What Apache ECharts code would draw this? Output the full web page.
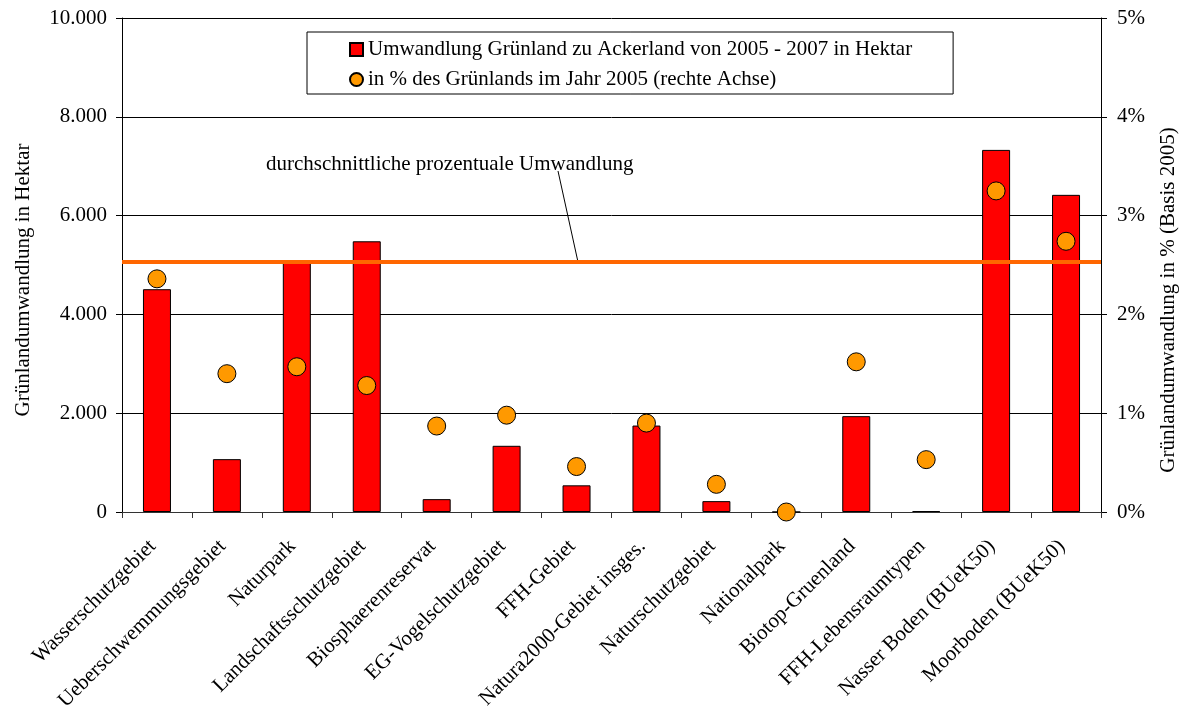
<!DOCTYPE html>
<html>
<head>
<meta charset="utf-8">
<script src="https://cdn.jsdelivr.net/npm/echarts@6/dist/echarts.min.js"></script>
<style>
  html, body { margin: 0; padding: 0; background: #fff; }
  #chart { width: 1184px; height: 708px; }
</style>
</head>
<body>
<div id="chart"></div>
<script>
const categories = [
  'Wasserschutzgebiet', 'Ueberschwemmungsgebiet', 'Naturpark', 'Landschaftsschutzgebiet',
  'Biosphaerenreservat', 'EG-Vogelschutzgebiet', 'FFH-Gebiet', 'Natura2000-Gebiet insges.',
  'Naturschutzgebiet', 'Nationalpark', 'Biotop-Gruenland', 'FFH-Lebensraumtypen',
  'Nasser Boden (BUeK50)', 'Moorboden (BUeK50)'
]
const hectares = [4510, 1070, 5090, 5480, 260, 1340, 540, 1750, 220, 0, 1940, 20, 7330, 6420]
const percentages = [2.36, 1.40, 1.47, 1.28, 0.87, 0.98, 0.46, 0.90, 0.28, 0, 1.52, 0.53, 3.25, 2.74]
const averagePct = 2.53

const barName = 'Umwandlung Grünland zu Ackerland von 2005 - 2007 in Hektar'
const dotName = 'in % des Grünlands im Jahr 2005 (rechte Achse)'
const noteText = 'durchschnittliche prozentuale Umwandlung'

const FONT = "'Liberation Serif', 'Times New Roman', serif"

function thousands(v) {
  return String(v).replace(/\B(?=(\d{3})+(?!\d))/g, '.')
}

const chart = echarts.init(document.getElementById('chart'))

chart.setOption({
  animation: false,
  textStyle: { fontFamily: FONT, color: '#000' },
  grid: { left: 122, right: 83, top: 18, bottom: 196, outerBoundsMode: 'none' },
  legend: {
    orient: 'vertical',
    left: 307,
    top: 32,
    padding: [7, 41, 4, 42],
    itemGap: 9,
    itemWidth: 13,
    itemHeight: 13,
    borderColor: '#000',
    borderWidth: 1,
    textStyle: { fontFamily: FONT, fontSize: 21, color: '#000' },
    data: [
      { name: barName, icon: 'rect' },
      { name: dotName, icon: 'circle' }
    ]
  },
  xAxis: {
    type: 'category',
    data: categories,
    axisLine: { lineStyle: { color: '#333', width: 1 } },
    axisTick: { show: true, length: 6, lineStyle: { color: '#333' } },
    axisLabel: {
      interval: 0,
      rotate: 45,
      margin: 27,
      padding: [0, 6, 0, 0],
      fontFamily: FONT,
      fontSize: 21,
      color: '#000'
    }
  },
  yAxis: [
    {
      type: 'value',
      min: 0,
      max: 10000,
      interval: 2000,
      name: 'Grünlandumwandlung in Hektar',
      nameLocation: 'middle',
      nameRotate: 90,
      nameGap: 88,
      nameTextStyle: { fontFamily: FONT, fontSize: 21, color: '#000', padding: [0, 30, 0, 0] },
      axisLine: { show: true, lineStyle: { color: '#000' } },
      axisTick: { show: true, length: 6, lineStyle: { color: '#000' } },
      axisLabel: { margin: 15, fontFamily: FONT, fontSize: 21, color: '#000', formatter: thousands },
      splitLine: { show: true, lineStyle: { color: '#000', width: 1 } }
    },
    {
      type: 'value',
      min: 0,
      max: 5,
      interval: 1,
      name: 'Grünlandumwandlung in % (Basis 2005)',
      nameLocation: 'middle',
      nameRotate: 90,
      nameGap: 57,
      nameTextStyle: { fontFamily: FONT, fontSize: 21, color: '#000', padding: [0, 70, 0, 0] },
      axisLine: { show: true, lineStyle: { color: '#000' } },
      axisTick: { show: true, length: 6, lineStyle: { color: '#000' } },
      axisLabel: { margin: 16, fontFamily: FONT, fontSize: 21, color: '#000', formatter: '{value}%' },
      splitLine: { show: false }
    }
  ],
  series: [
    {
      name: barName,
      type: 'bar',
      data: hectares,
      barWidth: 28,
      itemStyle: { color: '#FF0000', borderColor: '#000', borderWidth: 1 }
    },
    {
      name: dotName,
      type: 'scatter',
      yAxisIndex: 1,
      data: percentages,
      symbolSize: 18,
      clip: false,
      z: 4,
      itemStyle: { color: '#FF9900', borderColor: '#000', borderWidth: 1, opacity: 1 },
      markLine: {
        silent: true,
        symbol: 'none',
        label: { show: false },
        lineStyle: { color: '#FF6600', width: 4, type: 'solid' },
        data: [{ yAxis: averagePct }]
      }
    }
  ]
})

// annotation for the average line
const lineY = chart.convertToPixel({ yAxisIndex: 1 }, averagePct)
chart.setOption({
  graphic: [
    {
      type: 'text',
      left: 266,
      top: 154,
      style: { text: noteText, font: '21px ' + FONT, fill: '#000' }
    },
    {
      type: 'line',
      shape: { x1: 558, y1: 171, x2: 578, y2: lineY },
      style: { stroke: '#000', lineWidth: 1 }
    }
  ]
})
</script>
</body>
</html>
